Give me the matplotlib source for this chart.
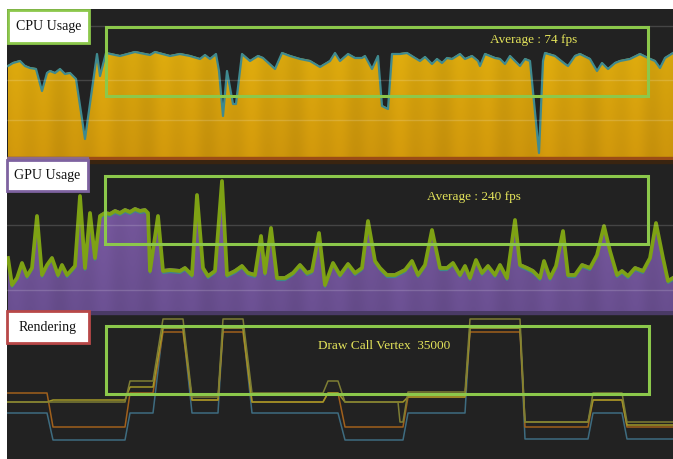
import numpy as np
import matplotlib
matplotlib.use("Agg")
import matplotlib.pyplot as plt
from matplotlib.patches import Rectangle
from matplotlib.transforms import offset_copy

# ---- data -----------------------------------------------------------------
# CPU usage (stacked total), frame -> value
cpu_frame = [8, 13, 20, 25, 30, 36, 42, 47, 50, 55, 60, 65, 70, 76, 85, 97,
             100, 106, 120, 135, 150, 155, 170, 180, 190, 200, 205, 210, 216,
             219, 223, 227, 233, 236, 242, 250, 258, 263, 275, 282, 290, 300,
             310, 320, 330, 335, 340, 348, 355, 362, 365, 372, 378, 382, 388,
             392, 400, 407, 415, 420, 425, 432, 437, 442, 447, 452, 460, 465,
             472, 478, 480, 485, 495, 500, 505, 510, 515, 520, 525, 530, 539,
             543, 545, 555, 565, 568, 575, 580, 590, 597, 602, 608, 615, 620,
             630, 640, 648, 655, 660, 665, 673]
cpu_value = [95, 98, 100, 95, 93, 92, 70, 88, 90, 88, 92, 87, 88, 82, 22, 107,
             85, 108, 105, 109, 106, 109, 105, 107, 105, 102, 106, 102, 107,
             90, 45, 90, 57, 57, 107, 100, 105, 103, 92, 108, 105, 102,
             100, 94, 100, 108, 100, 107, 103, 103, 105, 92, 105, 55, 52,
             107, 107, 108, 103, 100, 104, 97, 102, 98, 103, 102, 107, 102,
             105, 100, 95, 107, 103, 102, 97, 105, 100, 95, 102, 100, 8,
             100, 108, 105, 97, 95, 105, 107, 102, 90, 98, 92, 98, 100,
             102, 107, 103, 100, 93, 103, 108]

# GPU usage (stacked total), frame -> value
gpu_frame = [8, 12, 17, 22, 27, 32, 37, 42, 47, 52, 58, 62, 67, 75, 80, 85,
             90, 95, 100, 105, 110, 115, 120, 125, 130, 135, 140, 145, 148,
             150, 158, 163, 170, 180, 185, 192, 197, 203, 208, 215, 222, 227,
             235, 242, 248, 255, 261, 265, 271, 277, 285, 293, 300, 307, 312,
             319, 325, 333, 340, 348, 355, 362, 368, 375, 380, 387, 395, 405,
             412, 418, 425, 432, 440, 447, 453, 460, 465, 470, 476, 482, 488,
             495, 500, 507, 515, 520, 527, 533, 540, 544, 550, 556, 563, 568,
             575, 582, 590, 597, 604, 610, 617, 622, 628, 635, 643, 650, 656,
             663, 668, 673]
gpu_value = [55, 28, 35, 50, 37, 45, 97, 38, 48, 55, 38, 48, 38, 47, 117, 45,
             100, 55, 97, 100, 99, 102, 100, 103, 101, 104, 102, 103, 100,
             42, 97, 42, 43, 42, 45, 38, 118, 45, 37, 42, 132, 38,
             42, 47, 40, 38, 77, 40, 85, 35, 35, 40, 48, 40, 42,
             80, 28, 50, 38, 49, 40, 45, 92, 52, 45, 38, 38, 43,
             52, 38, 48, 83, 45, 45, 50, 38, 47, 35, 53, 40, 47,
             38, 48, 35, 93, 48, 45, 42, 35, 52, 35, 47, 82, 38,
             38, 48, 45, 58, 87, 62, 38, 42, 37, 45, 42, 55, 90,
             55, 32, 35]

# Rendering counters (step lines)
rend_frame = [7, 47, 53, 125, 130, 153, 163, 183, 192, 218, 223, 243, 252,
              323, 328, 338, 345, 398, 400, 403, 408, 465, 470, 520, 525,
              588, 593, 622, 627, 673]
rend_olive = [57, 57, 57, 57, 78, 78, 140, 140, 62, 62, 140, 140, 66,
              66, 78, 78, 57, 57, 37, 37, 67, 67, 140, 140, 37,
              37, 66, 66, 37, 37]
rend_yellow = [57, 57, 59, 59, 72, 72, 131, 131, 59, 59, 131, 131, 57,
               57, 66, 66, 57, 57, 57, 57, 62, 62, 131, 131, 37,
               37, 59, 59, 34, 34]
rend_orange = [66, 66, 32, 32, 66, 66, 127, 127, 59, 59, 127, 127, 57,
               57, 66, 66, 32, 32, 32, 32, 62, 62, 127, 127, 32,
               32, 59, 59, 32, 32]
rend_teal = [46, 46, 19, 19, 46, 46, 131, 131, 46, 46, 131, 131, 46,
             46, 46, 46, 19, 19, 19, 19, 46, 46, 131, 131, 20,
             20, 46, 46, 20, 20]

panel_titles = ["CPU Usage", "GPU Usage", "Rendering"]
panel_notes = ["Average : 74 fps", "Average : 240 fps", "Draw Call Vertex  35000"]

# ---- layout (pixels of the 673x459 screenshot) ----------------------------
W, H = 673, 459
BG = "#222222"


def add_panel(top, bottom):
    ax = fig.add_axes([7 / W, (H - bottom) / H, (W - 7) / W, (bottom - top) / H])
    ax.set_facecolor(BG)
    ax.set_xticks([])
    ax.set_yticks([])
    for s in ax.spines.values():
        s.set_visible(False)
    return ax


def textured_fill(ax, x, y, top_rgb, bot_rgb, ymax):
    poly = ax.fill_between(x, 0, y, facecolor="none", edgecolor="none")
    cols = np.arange(W)
    # faint vertical streaks like the profiler's per-frame columns
    streak = 1 + 0.022 * np.sin(cols * 0.21) + 0.018 * np.sin(cols * 0.083)
    t = np.linspace(0, 1, 200)[:, None, None]
    img = bot_rgb[None, None, :] * (1 - t) + top_rgb[None, None, :] * t
    img = np.clip(img * streak[None, :, None], 0, 1)
    im = ax.imshow(img, extent=[7, W, 0, ymax], origin="lower",
                   aspect="auto", zorder=1, interpolation="bilinear")
    im.set_clip_path(poly.get_paths()[0], transform=ax.transData)


fig = plt.figure(figsize=(W / 100, H / 100), dpi=100, facecolor="white")

# CPU panel
ax1 = add_panel(9, 160)
textured_fill(ax1, cpu_frame, cpu_value,
              np.array([220, 174, 14]) / 255, np.array([204, 148, 12]) / 255, 151)
ax1.plot(cpu_frame, cpu_value, color="#3f8a90", lw=1.6, zorder=3,
         transform=offset_copy(ax1.transData, fig, y=-1, units="dots"))
ax1.axhspan(0, 3, color="#9a4c16", zorder=2)
ax1.axhspan(0, 3, xmin=0, xmax=81 / 666, color="#8c6a8a", zorder=2)
for g in (134, 80, 40):
    ax1.axhline(g, color="white", alpha=0.16, lw=1, zorder=4)
ax1.set_xlim(7, W)
ax1.set_ylim(0, 151)

# GPU panel
ax2 = add_panel(160, 311)
ax2.axhspan(148, 151, color="#3a2410", zorder=0)
textured_fill(ax2, gpu_frame, gpu_value,
              np.array([122, 90, 160]) / 255, np.array([104, 78, 142]) / 255, 151)
ax2.plot(gpu_frame, gpu_value, color="#3c8a8a", lw=0.9, zorder=3,
         transform=offset_copy(ax2.transData, fig, y=-4.5, units="dots"))
ax2.plot(gpu_frame, gpu_value, color="#7ea214", lw=2.7, zorder=3,
         transform=offset_copy(ax2.transData, fig, y=-2, units="dots"))
for g in (86, 21):
    ax2.axhline(g, color="white", alpha=0.16, lw=1, zorder=4)
ax2.set_xlim(7, W)
ax2.set_ylim(0, 151)

# Rendering panel
ax3 = add_panel(311, 459)
ax3.axhspan(145, 148, color="#4a3a66", zorder=0)
for vals, c in ((rend_teal, "#3e6c80"), (rend_orange, "#a0601c"),
                (rend_yellow, "#a29828"), (rend_olive, "#7e7e34")):
    ax3.plot(rend_frame, vals, color=c, lw=1.1, zorder=3)
ax3.set_xlim(7, W)
ax3.set_ylim(0, 148)

# ---- overlay: title boxes, green highlight boxes, notes -------------------
ov = fig.add_axes([0, 0, 1, 1])
ov.set_xlim(0, W)
ov.set_ylim(H, 0)
ov.axis("off")
ov.patch.set_alpha(0)

boxes = [(106, 27, 648, 96), (105, 176, 648, 244), (106, 326, 649, 394)]
for x0, y0, x1, y1 in boxes:
    ov.add_patch(Rectangle((x0, y0), x1 - x0, y1 - y0, fill=False,
                           edgecolor="#8cc84b", lw=2.2, zorder=5))

title_boxes = [(8, 10, 89, 43, "#8cc84b"), (7, 160, 88, 191, "#7e62a0"),
               (7, 311, 89, 343, "#b84848")]
for (x0, y0, x1, y1, ec), name in zip(title_boxes, panel_titles):
    ov.add_patch(Rectangle((x0, y0), x1 - x0, y1 - y0, facecolor="white",
                           edgecolor=ec, lw=2.0, zorder=6))
    ov.text((x0 + x1) / 2, (y0 + y1) / 2, name, ha="center", va="center",
            family="Liberation Serif", fontsize=10, color="#111111", zorder=7)

note_pos = [(534, 40), (474, 197), (384, 346)]
for (x, y), note in zip(note_pos, panel_notes):
    ov.text(x, y, note, ha="center", va="center", family="Liberation Serif",
            fontsize=9.5, color="#e4e45a", zorder=7)

fig.savefig("out.png", dpi=100, facecolor="white")
